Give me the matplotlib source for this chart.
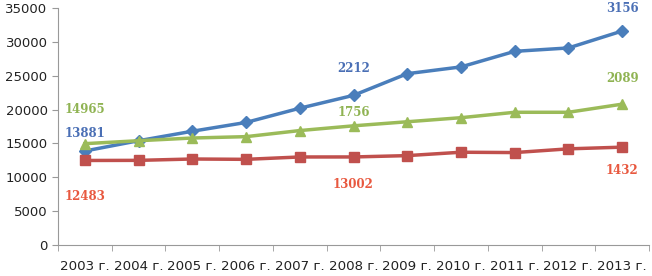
import matplotlib
matplotlib.use("Agg")
import matplotlib.pyplot as plt
import numpy as np

years = ["2003 г.", "2004 г.", "2005 г.", "2006 г.", "2007 г.", "2008 г.",
         "2009 г.", "2010 г.", "2011 г.", "2012 г.", "2013 г."]
blue = [13881, 15400, 16800, 18100, 20200, 22100, 25300, 26300, 28600, 29100, 31600]
green = [14965, 15400, 15800, 16000, 16900, 17600, 18200, 18800, 19600, 19600, 20800]
red = [12483, 12500, 12700, 12650, 13000, 13002, 13200, 13700, 13650, 14200, 14450]

blue_labels = [(0, "13881"), (5, "2212"), (10, "3156")]
green_labels = [(0, "14965"), (5, "1756"), (10, "2089")]
red_labels = [(0, "12483"), (5, "13002"), (10, "1432")]

c_blue = "#4a7ebb"
c_green = "#9bbb59"
c_red = "#c0504d"

fig = plt.figure(figsize=(6.52, 2.76), dpi=100)
ax = fig.add_axes([58/652, 1-245/276, (649-58)/652, (245-8)/276])
x = np.arange(len(years))
ax.plot(x, blue, color=c_blue, lw=2.5, marker="D", ms=6)
ax.plot(x, red, color=c_red, lw=2.5, marker="s", ms=7)
ax.plot(x, green, color=c_green, lw=2.5, marker="^", ms=7)

ax.set_xlim(-0.5, len(years)-0.5)
ax.set_ylim(0, 35000)
ax.set_yticks(range(0, 35001, 5000))
ax.set_xticks(x)
ax.set_xticklabels(years, fontsize=9.6, color="#222222")
ax.set_xticks(np.arange(-0.5, len(years), 1), minor=True)
ax.tick_params(axis="x", which="major", length=0, pad=11)
ax.tick_params(axis="x", which="minor", length=4, color="#999999")
ax.tick_params(axis="y", length=4, color="#999999", labelsize=9.5, labelcolor="#222222")
for s in ["top", "right"]:
    ax.spines[s].set_visible(False)
for s in ["left", "bottom"]:
    ax.spines[s].set_color("#999999")

lab_font = dict(fontfamily="DejaVu Serif", fontweight="bold", fontsize=8.5, ha="center", va="center")
# label offsets (data units)
offs_b = {0: 2600, 5: 3900, 10: 3300}
offs_g = {0: 5100, 5: 2000, 10: 3800}
offs_r = {0: -5300, 5: -4000, 10: -3400}
for i, t in blue_labels:
    ax.text(i, blue[i] + offs_b[i], t, color="#4a6fb5", **lab_font)
for i, t in green_labels:
    ax.text(i, green[i] + offs_g[i], t, color="#8fb352", **lab_font)
for i, t in red_labels:
    ax.text(i, red[i] + offs_r[i], t, color="#e8583f", **lab_font)

fig.savefig("out.png", dpi=100)
